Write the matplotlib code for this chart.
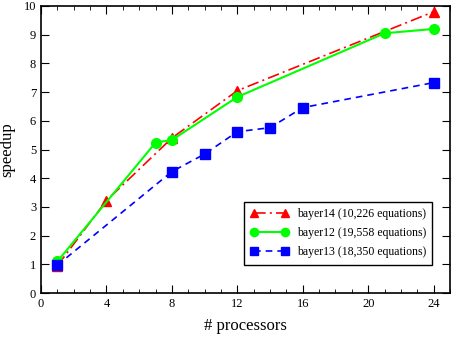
import matplotlib
matplotlib.use("Agg")
import matplotlib.pyplot as plt
from matplotlib.ticker import MultipleLocator

# Daten
procs_b14 = [1, 4, 8, 12, 24]
speedup_b14 = [0.95, 3.22, 5.4, 7.05, 9.8]

procs_b12 = [1, 7, 8, 12, 21, 24]
speedup_b12 = [1.1, 5.24, 5.33, 6.83, 9.05, 9.2]

procs_b13 = [1, 8, 10, 12, 14, 16, 24]
speedup_b13 = [0.97, 4.23, 4.84, 5.62, 5.76, 6.46, 7.33]

labels = ["bayer14 (10,226 equations)",
          "bayer12 (19,558 equations)",
          "bayer13 (18,350 equations)"]

plt.rcParams['font.family'] = ['Liberation Serif', 'DejaVu Serif']

fig = plt.figure(figsize=(4.51, 3.55), dpi=100)
ax = fig.add_axes([41 / 451, 1 - 293 / 355, 409 / 451, 287 / 355])

ax.plot(procs_b14, speedup_b14, color='#ff0000', linestyle=(0, (7, 2.5, 1.2, 2.5)),
        linewidth=1.2, marker='^', markersize=7, label=labels[0])
ax.plot(procs_b12, speedup_b12, color='#00ff00', linestyle='-',
        linewidth=1.5, marker='o', markersize=7, label=labels[1])
ax.plot(procs_b13, speedup_b13, color='#0000ff', linestyle=(0, (4, 3)),
        linewidth=1.2, marker='s', markersize=6.5, label=labels[2])

ax.set_xlim(0, 25)
ax.set_ylim(0, 10)
ax.xaxis.set_major_locator(MultipleLocator(4))
ax.xaxis.set_minor_locator(MultipleLocator(1))
ax.yaxis.set_major_locator(MultipleLocator(1))
ax.tick_params(which='both', direction='in', top=True, right=True, labelsize=9)
ax.tick_params(which='major', length=6)
ax.tick_params(which='minor', length=3)
for s in ax.spines.values():
    s.set_linewidth(1.2)

ax.set_xlabel('# processors', fontsize=12, labelpad=6)
ax.set_ylabel('speedup', fontsize=12, labelpad=6)

leg = ax.legend(loc='lower right', bbox_to_anchor=(0.957, 0.098), fontsize=8.5,
                fancybox=False, edgecolor='black', framealpha=1,
                numpoints=2, markerscale=0.85,
                handlelength=3.2, handletextpad=0.7, borderpad=0.55,
                labelspacing=0.6, borderaxespad=0)
leg.get_frame().set_linewidth(1.0)

fig.savefig('out.png', dpi=100)
